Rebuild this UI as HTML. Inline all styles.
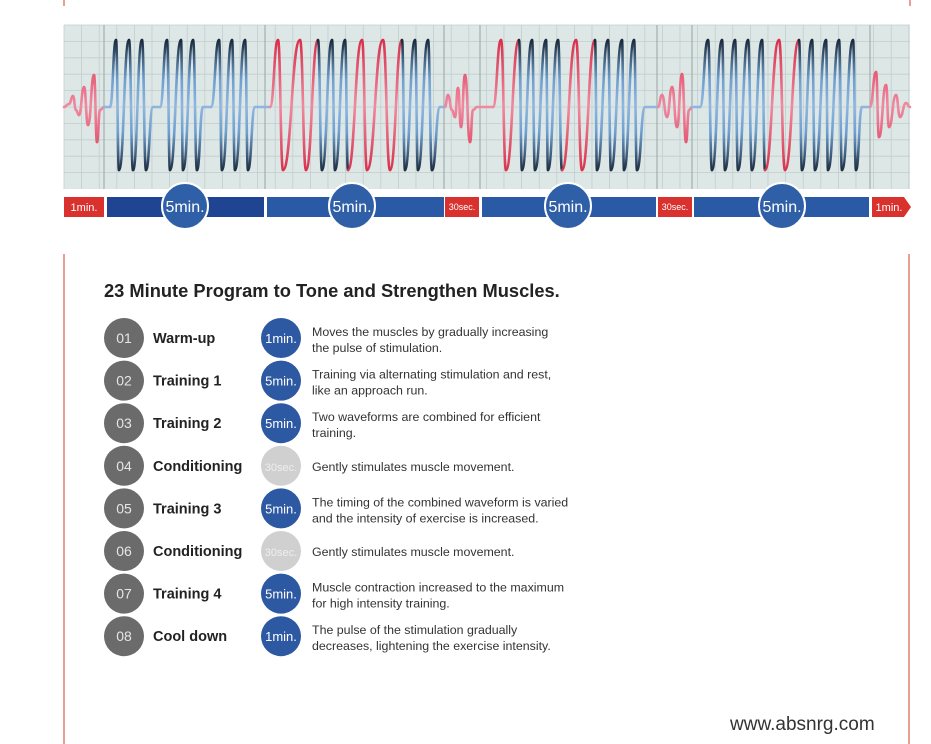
<!DOCTYPE html>
<html><head><meta charset="utf-8"><style>
html,body{margin:0;padding:0;background:#fff;}
body{width:931px;height:744px;overflow:hidden;position:relative;font-family:"Liberation Sans",sans-serif;}
</style></head><body>
<svg id="s" width="931" height="744" viewBox="0 0 931 744" xmlns="http://www.w3.org/2000/svg" style="position:absolute;left:0;top:0">
<defs>
<linearGradient id="gb" x1="0" y1="40" x2="0" y2="172" gradientUnits="userSpaceOnUse">
<stop offset="0" stop-color="#1a2a3c"/><stop offset="0.3" stop-color="#6f9fd0"/><stop offset="0.5" stop-color="#8fb6e0"/><stop offset="0.7" stop-color="#6f9fd0"/><stop offset="1" stop-color="#1a2a3c"/></linearGradient>
<linearGradient id="gr" x1="0" y1="40" x2="0" y2="172" gradientUnits="userSpaceOnUse">
<stop offset="0" stop-color="#d8304c"/><stop offset="0.5" stop-color="#f08aa0"/><stop offset="1" stop-color="#d8304c"/></linearGradient>
</defs>
<line x1="64" y1="0" x2="64" y2="6" stroke="#e08070" stroke-width="1.5"/>
<line x1="910" y1="0" x2="910" y2="6" stroke="#e08070" stroke-width="1.5"/>
<line x1="64" y1="254" x2="64" y2="744" stroke="#e08070" stroke-width="1.5"/>
<line x1="909" y1="254" x2="909" y2="744" stroke="#e08070" stroke-width="1.5"/>
<rect x="64" y="25" width="846" height="164" fill="#dde7e6"/>
<g id="grid"></g>
<g id="wave" fill="none" stroke-width="2.6" stroke-linecap="round" stroke-linejoin="round"></g>
<g id="bars"></g>
<text x="104" y="297" font-size="18.3" font-weight="bold" fill="#222">23 Minute Program to Tone and Strengthen Muscles.</text>
<g id="rows"></g>
<text x="730" y="730" font-size="19" fill="#333">www.absnrg.com</text>
</svg>
<script>
var NS="http://www.w3.org/2000/svg";
function el(p,t,a,txt){var e=document.createElementNS(NS,t);for(var k in a)e.setAttribute(k,a[k]);if(txt!=null)e.textContent=txt;document.getElementById(p).appendChild(e);return e;}
for(var x=64;x<=910;x+=17.6)el("grid","line",{x1:x,y1:25,x2:x,y2:189,stroke:"#c2cecd","stroke-width":0.8});
for(var y=25;y<=189;y+=16.4)el("grid","line",{x1:64,y1:y,x2:910,y2:y,stroke:"#c2cecd","stroke-width":0.8});
[104,265,444,480,657,692,870].forEach(function(x){el("grid","line",{x1:x,y1:25,x2:x,y2:189,stroke:"#95a4a4","stroke-width":1});});
var C=107,P=40,T=170,pts=[];
function add(x,y,c){pts.push([x,y,c]);}
function flat(x,c){add(x,C,c);}
function zig(peaks,troughs,c){for(var i=0;i<peaks.length;i++){add(peaks[i],P,c);add(troughs[i],T,c);}}
function damp(xs,ys,c){for(var i=0;i<xs.length;i++)add(xs[i],ys[i],c);}
add(64,107,"r");
damp([69,73,76,79,84,88,94,97,100],[104,96,110,115,87,125,75,142,110],"r");
flat(104,"r");flat(110,"b");
zig([116,129,142],[119,133,146],"b");flat(153,"b");flat(160,"b");
zig([167,181,193],[170,183,197],"b");flat(203,"b");flat(211,"b");
zig([219,232,245],[222,235,248],"b");flat(255,"b");flat(270,"b");
add(278,P,"r");add(283,T,"r");add(300,P,"r");add(306,T,"r");
zig([318,332,345],[322,335,348],"b");
add(362,P,"r");add(367,T,"r");add(383,P,"r");add(390,T,"r");
zig([402,415,428],[405,418,432],"b");flat(440,"b");flat(445,"r");
damp([448,452,455,458,461,465,470,473],[95,110,117,88,127,75,142,110],"r");flat(477,"r");flat(493,"r");
add(501,P,"r");add(506,T,"r");
zig([519,532,546,558],[522,535,548,562],"b");
add(576,P,"r");add(582,T,"r");
zig([595,608,622,634],[597,611,624,637],"b");flat(645,"b");flat(658,"r");
damp([662,667,672,677,682,686,689],[95,117,87,127,74,142,110],"r");flat(692,"r");flat(700,"b");
zig([708,722,735,748,762],[712,725,738,752,765],"b");
add(779,P,"r");add(785,T,"r");
zig([799,812,826,839,853],[802,815,828,842,856],"b");flat(862,"b");flat(870,"r");
damp([876,879,886,889,896,900,906,910],[72,137,85,127,95,117,103,107],"r");
for(var i=1;i<pts.length;i++){var a=pts[i-1],b=pts[i];var c;
if(a[2]==b[2])c=a[2];else c=(b[2]=="r"&&b[1]!=C)||(a[2]=="r"&&a[1]!=C)?"r":"b";
var mx=(a[0]+b[0])/2;
var d="M"+a[0]+" "+a[1]+" C"+mx+" "+a[1]+" "+mx+" "+b[1]+" "+b[0]+" "+b[1];
el("wave","path",{d:d,stroke:c=="r"?"url(#gr)":"url(#gb)"});}
function rect(x,w,f){el("bars","rect",{x:x,y:197,width:w,height:20,fill:f});}
function txt(g,x,y,s,fs,f,anch,w){return el(g,"text",{x:x,y:y,"font-size":fs,fill:f,"text-anchor":anch||"middle","font-weight":w||"normal"},s);}
rect(64,40,"#d9322e");txt("bars",84,211,"1min.",11,"#fff");
rect(107,157,"#1f4592");rect(267,177,"#2a5aa6");
rect(445,34,"#d9322e");txt("bars",462,210,"30sec.",9,"#fff");
rect(482,174,"#2a5aa6");
rect(658,34,"#d9322e");txt("bars",675,210,"30sec.",9,"#fff");
rect(694,175,"#2a5aa6");
el("bars","path",{d:"M872 197 H904 L911 207 L904 217 H872 Z",fill:"#d9322e"});txt("bars",889,211,"1min.",11,"#fff");
[185,352,568,782].forEach(function(cx){el("bars","circle",{cx:cx,cy:206,r:23,fill:"#2f5fa6",stroke:"#fff","stroke-width":2});txt("bars",cx,212,"5min.",16,"#fff");});
var rows=[["01","Warm-up","1min.","Moves the muscles by gradually increasing","the pulse of stimulation."],
["02","Training 1","5min.","Training via alternating stimulation and rest,","like an approach run."],
["03","Training 2","5min.","Two waveforms are combined for efficient","training."],
["04","Conditioning","30sec.","Gently stimulates muscle movement.",""],
["05","Training 3","5min.","The timing of the combined waveform is varied","and the intensity of exercise is increased."],
["06","Conditioning","30sec.","Gently stimulates muscle movement.",""],
["07","Training 4","5min.","Muscle contraction increased to the maximum","for high intensity training."],
["08","Cool down","1min.","The pulse of the stimulation gradually","decreases, lightening the exercise intensity."]];
rows.forEach(function(r,i){var cy=338+i*42.6;
el("rows","circle",{cx:124,cy:cy,r:20,fill:"#6b6b6b"});txt("rows",124,cy+5,r[0],14,"#e6e6e6");
txt("rows",153,cy+5,r[1],14.5,"#222","start","bold");
var grey=r[2]=="30sec.";
el("rows","circle",{cx:281,cy:cy,r:20,fill:grey?"#d0d0d0":"#2d58a2"});
txt("rows",281,cy+5,r[2],grey?11:13,grey?"#eee":"#fff");
if(r[4]){txt("rows",312,cy-2,r[3],12.4,"#333","start");txt("rows",312,cy+14,r[4],12.4,"#333","start");}
else txt("rows",312,cy+5,r[3],12.4,"#333","start");});
</script>
</body></html>
